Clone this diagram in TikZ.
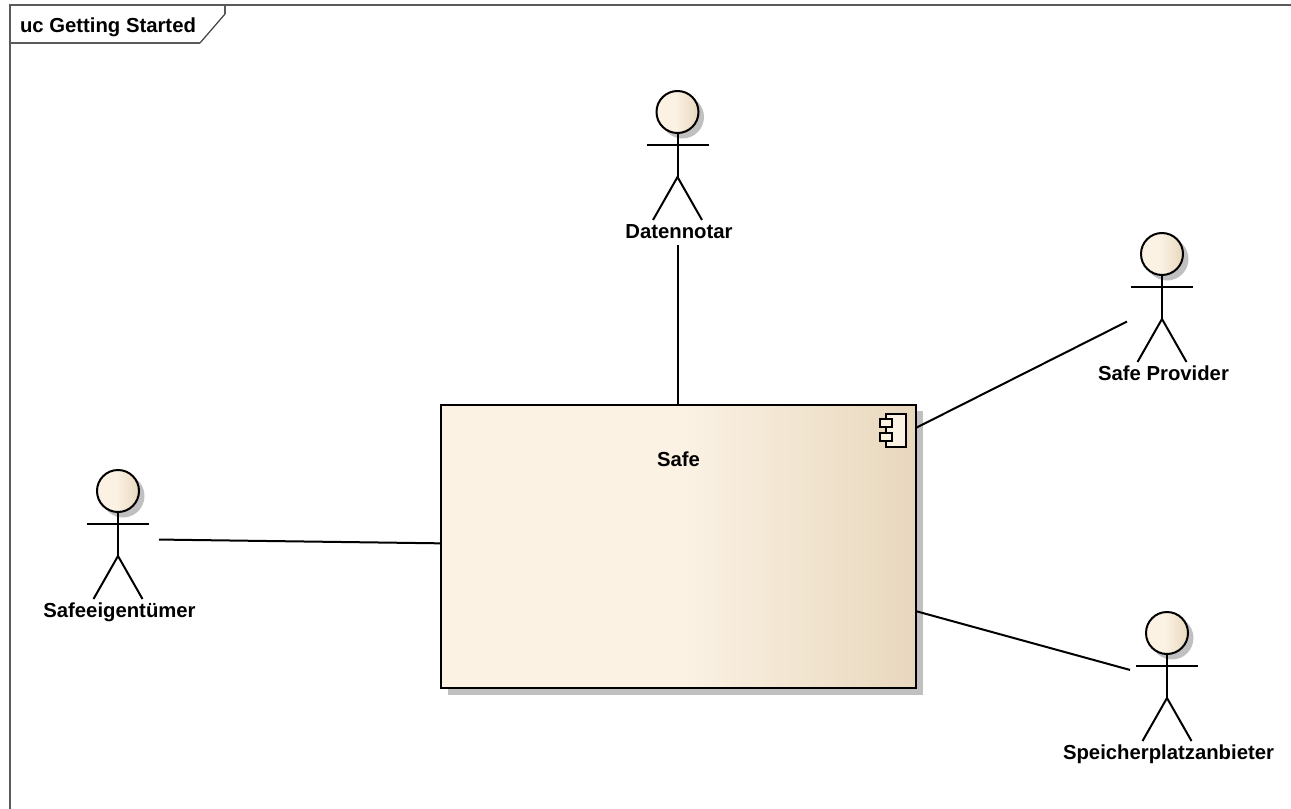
\documentclass[tikz,border=0pt]{standalone}
\usepackage{fontspec}
\setmainfont{Liberation Sans}
\definecolor{fillLight}{HTML}{FBF2E4}
\definecolor{fillDark}{HTML}{E8D7BD}
\definecolor{shadowgray}{HTML}{C0C0C0}
\definecolor{framegray}{HTML}{5A5A5A}
\pgfdeclarehorizontalshading{safeshade}{100bp}{color(0bp)=(fillLight); color(50.5bp)=(fillLight); color(75bp)=(fillDark); color(100bp)=(fillDark)}
\pgfdeclarehorizontalshading{headshade}{100bp}{color(0bp)=(fillLight); color(48bp)=(fillLight); color(75bp)=(fillDark); color(100bp)=(fillDark)}
\tikzset{
  txt/.style={font=\bfseries\fontsize{20.3bp}{22bp}\selectfont,text=black,inner sep=0pt,outer sep=0pt,anchor=base},
  figline/.style={line width=2bp,draw=black},
  connector/.style={line width=2bp,draw=black},
  headcircle/.style={circle,minimum size=42bp,inner sep=0pt,outer sep=0pt,line width=2bp,draw=black,shading=headshade,shading angle=0},
  actorbox/.style={rectangle,inner sep=0pt,outer sep=0pt,draw=none},
  framestyle/.style={line width=2bp,draw=framegray},
}
\usetikzlibrary{calc}
% name, head x, head y, label, box half width, box half height
\newcommand{\umlactor}[6]{%
  \fill[shadowgray] (#2+5,-#3-5) circle (21.5);
  \node[headcircle] (#1head) at (#2,-#3) {};
  \coordinate (#1hip) at (#2,-#3-65);
  \coordinate (#1neck) at (#2,-#3-33);
  \draw[figline] (#1head.south) -- (#1hip);
  \draw[figline] ($(#1neck)+(-31,0)$) -- ($(#1neck)+(31,0)$);
  \draw[figline] ($(#1hip)+(-24.5,-43)$) -- (#1hip) -- ($(#1hip)+(24.5,-43)$);
  \node[txt] (#1label) at (#2+1.5,-#3-126.5) {#4};
  \node[actorbox,minimum width=#5*2bp,minimum height=#6*2bp] (#1) at (#2,-#3+21-#6) {};
}
\begin{document}
\begin{tikzpicture}[x=1bp,y=1bp]
\useasboundingbox (0,0) rectangle (1291,-809);
% frame
\draw[framestyle] (1291,-5.5) -- (9.5,-5.5) -- (9.5,-809);
\draw[framestyle] (9.5,-43) -- (200,-43);
\draw[line width=1.2bp,draw=black!75] (200,-43) -- (225,-14);
\draw[line width=2.5bp,draw=framegray] (225,-5.5) -- (225,-14);
\node[txt,anchor=base west] (frametitle) at (20,-32.3) {uc Getting Started};
% safe
\fill[shadowgray] (447.5,-410.5) rectangle (923,-695);
\node[rectangle,minimum width=475bp,minimum height=283bp,inner sep=0pt,outer sep=0pt,draw=black,line width=2.3bp,shading=safeshade,shading angle=0] (safe) at (678.5,-546.5) {};
\node[txt] (safelabel) at (678.5,-466.5) {Safe};
% component icon
\draw[figline,fill=fillLight] (885.7,-414) rectangle (906,-446.7);
\draw[figline,fill=fillLight] (879.5,-419.3) rectangle (892,-426.7);
\draw[figline,fill=fillLight] (879.5,-432.7) rectangle (892,-440.7);
% actors
\umlactor{notar}{677.5}{112}{Datennotar}{35}{77}
\umlactor{provider}{1162}{254}{Safe Provider}{35}{71}
\umlactor{owner}{118}{491}{Safeeigentümer}{41}{69}
\umlactor{storage}{1167}{633}{Speicherplatzanbieter}{37}{68}
% connectors
\draw[connector] (notar.south) -- (safe.north -| notar.south);
\draw[connector] (safe) -- (provider);
\draw[connector] (safe) -- (owner);
\draw[connector] (safe) -- (storage);
\end{tikzpicture}
\end{document}
